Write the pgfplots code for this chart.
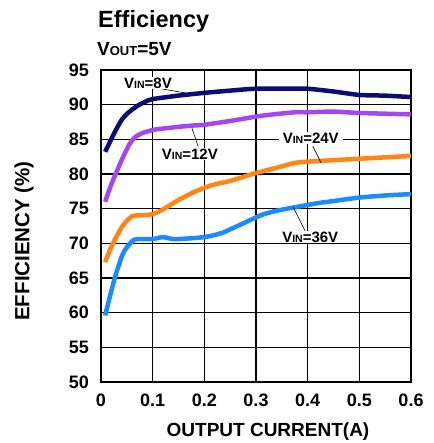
\documentclass[border=0pt]{standalone}
\usepackage{pgfplots}
\pgfplotsset{compat=1.18}
\usepackage{fontspec}
\setmainfont{Liberation Sans}
\definecolor{cnavy}{RGB}{12,12,115}
\definecolor{cpurple}{RGB}{163,72,240}
\definecolor{corange}{RGB}{255,134,20}
\definecolor{cblue}{RGB}{26,140,255}
\newcommand\fs[1]{\fontsize{#1}{#1}\selectfont}
\newcommand\lab[1]{\bfseries\fs{15}V{\fs{10.5}IN}=#1}
\begin{document}
\begin{tikzpicture}
\useasboundingbox (-101pt,-61pt) rectangle (332pt,382pt);
\begin{axis}[
  at={(0,0)}, anchor=south west,
  scale only axis, width=310pt, height=312pt,
  xmin=0, xmax=0.6, ymin=50, ymax=95,
  xtick={0,0.1,0.2,0.3,0.4,0.5,0.6},
  xticklabels={0,0.1,0.2,0.3,0.4,0.5,0.6},
  ytick={50,55,60,65,70,75,80,85,90,95},
  major tick length=0pt,
  grid=major,
  major grid style={black, line width=1.1pt},
  axis line style={black, line width=2.5pt},
  /pgf/number format/assume math mode=true,
  xticklabel style={font=\bfseries\fs{18}, inner sep=0pt, anchor=north, yshift=-12pt},
  yticklabel style={font=\bfseries\fs{18}, inner sep=0pt, anchor=east, xshift=-12pt},
  clip=false,
]
\addplot[cnavy, line width=4.5pt, smooth, tension=0.4] coordinates {
(0.008,83.2)(0.027,86.1)(0.04,87.8)(0.052,88.8)(0.07,89.8)(0.085,90.4)(0.1,90.8)(0.149,91.3)(0.2,91.7)(0.246,92.0)(0.3,92.3)(0.375,92.3)(0.4,92.3)(0.45,91.9)(0.5,91.4)(0.55,91.3)(0.6,91.1)};
\addplot[cpurple, line width=4.5pt, smooth, tension=0.4] coordinates {
(0.008,76.0)(0.02,78.5)(0.04,82.0)(0.055,84.3)(0.066,85.3)(0.08,85.9)(0.104,86.4)(0.15,86.8)(0.18,87.0)(0.2,87.1)(0.246,87.6)(0.311,88.4)(0.375,88.9)(0.4,88.9)(0.45,89.0)(0.5,88.8)(0.6,88.6)};
\addplot[corange, line width=4.5pt, smooth, tension=0.4] coordinates {
(0.008,67.3)(0.02,69.5)(0.04,72.3)(0.06,73.9)(0.09,74.1)(0.1,74.2)(0.118,74.8)(0.149,76.2)(0.18,77.4)(0.215,78.4)(0.25,79.0)(0.298,80.1)(0.34,80.9)(0.375,81.6)(0.404,81.8)(0.45,82.0)(0.5,82.2)(0.55,82.4)(0.6,82.6)};
\addplot[cblue, line width=4.5pt, smooth, tension=0.4] coordinates {
(0.008,59.6)(0.027,65.1)(0.043,68.6)(0.06,70.3)(0.07,70.6)(0.099,70.6)(0.12,70.9)(0.143,70.6)(0.2,70.9)(0.234,71.5)(0.273,72.8)(0.311,74.1)(0.34,74.7)(0.375,75.2)(0.42,75.8)(0.45,76.1)(0.5,76.6)(0.55,76.9)(0.6,77.1)};
\draw[black, line width=0.6pt] (axis cs:0.108,92.4) -- (axis cs:0.163,91.7);
\draw[black, line width=0.6pt] (axis cs:0.176,86.6) -- (axis cs:0.188,84.0);
\draw[black, line width=0.6pt] (axis cs:0.410,84.0) -- (axis cs:0.426,81.6);
\draw[black, line width=0.6pt] (axis cs:0.372,75.2) -- (axis cs:0.395,71.8);
\node[fill=white, inner sep=1pt] at (axis cs:0.091,93.1) {\lab{8V}};
\node[fill=white, inner sep=1pt] at (axis cs:0.172,82.9) {\lab{12V}};
\node[fill=white, inner xsep=4pt, inner ysep=1pt] at (axis cs:0.406,85.2) {\lab{24V}};
\node[fill=white, inner sep=1pt] at (axis cs:0.405,70.9) {\lab{36V}};
\end{axis}
\node[anchor=base west, inner sep=0pt, font=\bfseries\fs{23.5}] at (-3pt,354pt) {Efficiency};
\node[anchor=base west, inner sep=0pt, font=\bfseries\fs{19}] at (-4pt,326pt) {V{\fs{13}OUT}=5V};
\node[rotate=90, inner sep=0pt, font=\bfseries\fs{20.5}] at (-77pt,141pt) {EFFICIENCY (\%)};
\node[inner sep=0pt, font=\bfseries\fs{19}] at (167pt,-50pt) {OUTPUT CURRENT(A)};
\end{tikzpicture}
\end{document}
